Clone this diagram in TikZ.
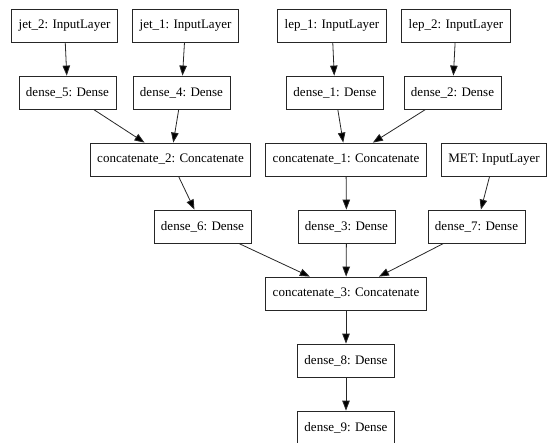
\documentclass[tikz,border=0pt]{standalone}
\usepackage{fontspec}
\setmainfont{Liberation Serif}
\usetikzlibrary{arrows.meta}
\begin{document}
\begin{tikzpicture}[x=1pt,y=-1pt,
  layer/.style={draw=black!85,line width=0.8pt,minimum height=33pt,inner xsep=7pt,inner ysep=0pt,font=\fontsize{13}{15}\selectfont},
  link/.style={draw=black!85,line width=0.8pt,-{Triangle[length=10pt,width=7.5pt,fill=black]}}]
\useasboundingbox (0,0) rectangle (548,443);
\node[layer] (jet2) at (64.5,25.5) {jet\_2: InputLayer};
\node[layer] (jet1) at (185.5,25.5) {jet\_1: InputLayer};
\node[layer] (lep1) at (332,25.5) {lep\_1: InputLayer};
\node[layer] (lep2) at (456,25.5) {lep\_2: InputLayer};
\node[layer] (d5) at (67.5,92.5) {dense\_5: Dense};
\node[layer] (d4) at (181.5,92.5) {dense\_4: Dense};
\node[layer] (d1) at (335,92.5) {dense\_1: Dense};
\node[layer] (d2) at (452.5,92.5) {dense\_2: Dense};
\node[layer] (c2) at (170.5,159.5) {concatenate\_2: Concatenate};
\node[layer] (c1) at (346,159.5) {concatenate\_1: Concatenate};
\node[layer] (met) at (494,159.5) {MET: InputLayer};
\node[layer] (d6) at (202.5,226.5) {dense\_6: Dense};
\node[layer] (d3) at (346.5,226.5) {dense\_3: Dense};
\node[layer] (d7) at (476.5,226.5) {dense\_7: Dense};
\node[layer] (c3) at (346,293.5) {concatenate\_3: Concatenate};
\node[layer] (d8) at (346,360.5) {dense\_8: Dense};
\node[layer] (d9) at (346,427.5) {dense\_9: Dense};
\draw[link] (jet2) -- (d5);
\draw[link] (jet1) -- (d4);
\draw[link] (lep1) -- (d1);
\draw[link] (lep2) -- (d2);
\draw[link] (d5) -- (c2);
\draw[link] (d4) -- (c2);
\draw[link] (d1) -- (c1);
\draw[link] (d2) -- (c1);
\draw[link] (c2) -- (d6);
\draw[link] (c1) -- (d3);
\draw[link] (met) -- (d7);
\draw[link] (d6) -- (c3);
\draw[link] (d3) -- (c3);
\draw[link] (d7) -- (c3);
\draw[link] (c3) -- (d8);
\draw[link] (d8) -- (d9);
\end{tikzpicture}
\end{document}
